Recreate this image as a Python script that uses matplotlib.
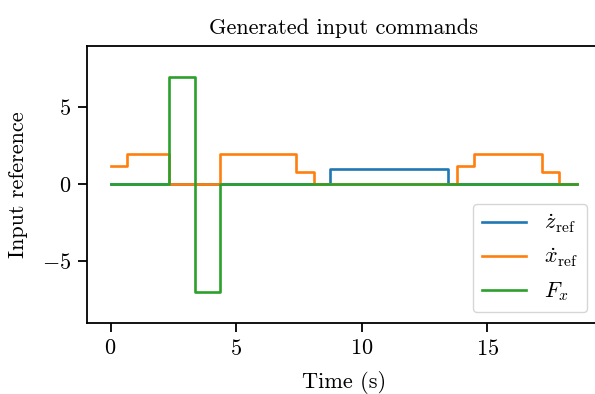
import matplotlib
matplotlib.use("Agg")
import matplotlib.pyplot as plt

# step commands (time at which each level starts, level held until next time)
t_z = [0.0, 8.75, 13.45, 18.56]
z_dot_ref = [0.0, 1.0, 0.0, 0.0]

t_x = [0.0, 0.67, 2.33, 4.37, 7.40, 8.10, 13.80, 14.48, 17.18, 17.87, 18.56]
x_dot_ref = [1.2, 2.0, 0.0, 2.0, 0.8, 0.0, 1.2, 2.0, 0.8, 0.0, 0.0]

t_f = [0.0, 2.33, 3.37, 4.37, 18.56]
f_x = [0.0, 7.0, -7.0, 0.0, 0.0]

plt.rcParams.update({
    "font.family": "serif",
    "font.serif": ["cmr10"],
    "mathtext.fontset": "cm",
    "axes.formatter.use_mathtext": True,
    "font.size": 16,
    "axes.linewidth": 1.3,
    "xtick.major.size": 6.5,
    "ytick.major.size": 6.5,
    "xtick.major.width": 1.3,
    "ytick.major.width": 1.3,
    "xtick.major.pad": 5,
    "ytick.major.pad": 5,
})

fig = plt.figure(figsize=(5.95, 3.94), dpi=100)
ax = fig.add_axes([87.3 / 595, 1 - 322.7 / 394, 512.7 / 595, 276.7 / 394])

ax.step(t_z, z_dot_ref, where="post", label=r"$\dot{z}_{\mathrm{ref}}$", color="#1f77b4", linewidth=1.9)
ax.step(t_x, x_dot_ref, where="post", label=r"$\dot{x}_{\mathrm{ref}}$", color="#ff7f0e", linewidth=1.9)
ax.step(t_f, f_x, where="post", label=r"$F_x$", color="#2ca02c", linewidth=1.9)

ax.set_ylim(-9, 9)
ax.set_xticks([0, 5, 10, 15])
ax.set_yticks([-5, 0, 5])
ax.set_xlabel("Time (s)", labelpad=9)
ax.set_ylabel("Input reference", labelpad=10)
ax.set_title("Generated input commands", fontsize=16, pad=9)
ax.legend(loc="lower right", bbox_to_anchor=(587 / 595, 1 - 312 / 394),
          bbox_transform=fig.transFigure, borderaxespad=0)

fig.savefig("out.png", dpi=100)
